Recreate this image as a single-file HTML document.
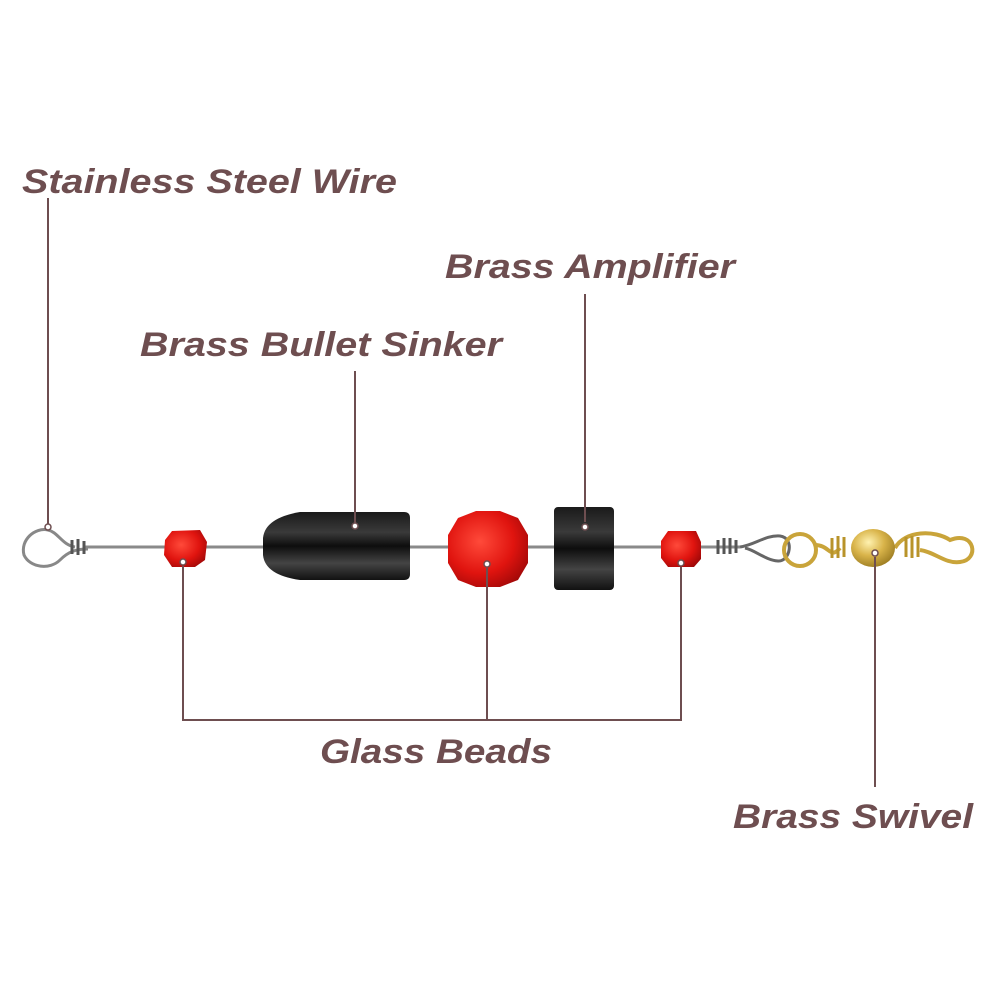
<!DOCTYPE html>
<html><head><meta charset="utf-8"><style>html,body{margin:0;padding:0;background:#fff}svg{display:block}</style></head>
<body>
<svg width="1000" height="1000" viewBox="0 0 1000 1000" xmlns="http://www.w3.org/2000/svg">
<defs>
<linearGradient id="blk" x1="0" y1="0" x2="0" y2="1">
<stop offset="0" stop-color="#1a1a1a"/><stop offset="0.3" stop-color="#3a3a3a"/><stop offset="0.5" stop-color="#0d0d0d"/><stop offset="0.75" stop-color="#444"/><stop offset="1" stop-color="#111"/></linearGradient>
<radialGradient id="red" cx="0.4" cy="0.4" r="0.7"><stop offset="0" stop-color="#ff4a3a"/><stop offset="0.6" stop-color="#e0140f"/><stop offset="1" stop-color="#a00808"/></radialGradient>
<radialGradient id="gold" cx="0.4" cy="0.35" r="0.7"><stop offset="0" stop-color="#fff2b0"/><stop offset="0.5" stop-color="#d9b44a"/><stop offset="1" stop-color="#9a7a20"/></radialGradient>
</defs>
<g font-family="Liberation Sans, sans-serif" font-weight="bold" font-style="italic" font-size="34" fill="#6e4e50">
<text x="22" y="193" textLength="375" lengthAdjust="spacingAndGlyphs">Stainless Steel Wire</text>
<text x="445" y="278" textLength="290" lengthAdjust="spacingAndGlyphs">Brass Amplifier</text>
<text x="140" y="356" textLength="362" lengthAdjust="spacingAndGlyphs">Brass Bullet Sinker</text>
<text x="320" y="763" textLength="232" lengthAdjust="spacingAndGlyphs">Glass Beads</text>
<text x="733" y="828" textLength="240" lengthAdjust="spacingAndGlyphs">Brass Swivel</text>
</g>
<!-- wire -->
<line x1="85" y1="547" x2="740" y2="547" stroke="#8a8a8a" stroke-width="3"/>
<path d="M88 549 C75 549 68 552 60 560 C50 570 30 568 24 555 C20 540 35 527 48 530 C58 532 62 545 75 547" fill="none" stroke="#888" stroke-width="3"/>
<g stroke="#555" stroke-width="3" fill="none"><path d="M72 540 v14 M78 539 v16 M84 541 v13"/></g>
<!-- bead 1 -->
<polygon points="172,531 200,530 207,542 205,560 195,567 172,567 164,555 165,540" fill="url(#red)"/>
<!-- bullet -->
<path d="M300 512 L404 512 Q410 512 410 518 L410 574 Q410 580 404 580 L300 580 Q265 575 263 555 L263 538 Q265 518 300 512 Z" fill="url(#blk)"/>
<!-- big bead -->
<polygon points="476,511 500,511 518,518 528,535 528,563 518,580 500,587 476,587 458,580 448,563 448,535 458,518" fill="url(#red)"/>
<!-- amp -->
<rect x="554" y="507" width="60" height="83" rx="4" fill="url(#blk)"/>
<!-- bead 3 -->
<polygon points="668,531 696,531 701,542 701,559 694,567 668,567 661,558 661,541" fill="url(#red)"/>
<!-- swivel wire -->
<g stroke="#555" stroke-width="3" fill="none"><path d="M718 540 v14 M724 538 v16 M730 538 v16 M736 540 v13"/></g>
<path d="M740 547 C755 545 765 535 780 536 C795 538 790 562 778 561 C765 560 755 550 745 548" fill="none" stroke="#666" stroke-width="3"/>
<g fill="none" stroke="#c9a43a" stroke-width="4">
<circle cx="800" cy="550" r="16"/>
<path d="M815 545 C830 545 830 560 840 548"/>
<path d="M895 548 C905 530 935 530 950 540 C975 530 980 560 960 562 C945 564 935 552 920 550"/>
</g>
<g stroke="#b8932a" stroke-width="3"><path d="M832 538 v20 M838 536 v22 M844 537 v20 M906 537 v20 M912 536 v22 M918 537 v20"/></g>
<ellipse cx="873" cy="548" rx="22" ry="19" fill="url(#gold)"/>
<!-- leader lines -->
<g stroke="#6e4e50" stroke-width="2" fill="none">
<line x1="48" y1="198" x2="48" y2="524"/>
<line x1="355" y1="371" x2="355" y2="523"/>
<line x1="585" y1="294" x2="585" y2="522"/>
<polyline points="183,566 183,720 681,720 681,567"/>
<line x1="487" y1="568" x2="487" y2="720"/>
<line x1="875" y1="557" x2="875" y2="787"/>
</g>
<g fill="#fff" stroke="#6e4e50" stroke-width="1.5">
<circle cx="48" cy="527" r="3"/><circle cx="355" cy="526" r="3"/><circle cx="585" cy="527" r="3"/>
<circle cx="183" cy="562" r="3"/><circle cx="487" cy="564" r="3"/><circle cx="681" cy="563" r="3"/><circle cx="875" cy="553" r="3"/>
</g>
</svg>
</body></html>
